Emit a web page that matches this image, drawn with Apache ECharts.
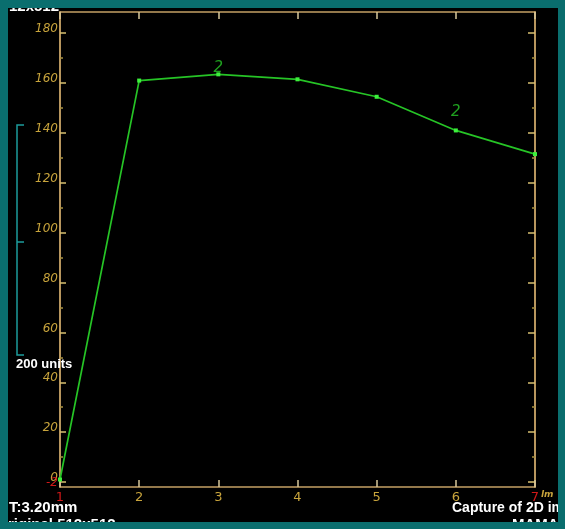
<!DOCTYPE html>
<html>
<head>
<meta charset="utf-8">
<script src="https://cdn.jsdelivr.net/npm/echarts@6/dist/echarts.min.js"></script>
<style>
html,body{margin:0;padding:0;background:#0a6e6e;}
#chart{width:565px;height:529px;}
</style>
</head>
<body>
<div id="chart"></div>
<script>
// ---- data ----
const xValues = [1, 2, 3, 4, 5, 6, 7];
const yValues = [1, 161, 163.5, 161.5, 154.5, 141, 131.5];
const pointTags = ['', '', '2', '', '', '2', ''];
const xTickValues = [1, 2, 3, 4, 5, 6, 7];
const yLabelValues = [0, 20, 40, 60, 80, 100, 120, 140, 160, 180];
const yMinLabel = [-2];
const yMajorTicks = [0, 20, 40, 60, 80, 100, 120, 140, 160, 180];
const yMinorTicks = [10, 30, 50, 70, 90, 110, 130, 150, 170];
const yMin = -2, yMax = 188.5;

const axisCol = '#c4a064';
const labelCol = '#c8a43c';
const red = '#d01818';

function yAx(pos, ticks, len, color, labels, lblColor) {
  return {
    type: 'value', position: pos, min: yMin, max: yMax,
    splitLine: {show: false},
    axisLine: {show: true, onZero: false, lineStyle: {color: axisCol, width: 1.5}},
    axisTick: {show: true, inside: true, length: len, customValues: ticks,
               lineStyle: {color: color, width: 1.5}},
    axisLabel: labels ? {
      show: true, customValues: labels, margin: 2, hideOverlap: false,
      showMinLabel: true, showMaxLabel: true,
      fontFamily: 'DejaVu Sans', fontSize: 12, fontStyle: 'italic',
      verticalAlign: 'bottom', lineHeight: 8,
      color: lblColor
    } : {show: false}
  };
}

const seriesData = xValues.map((x, i) => ({
  value: [x, yValues[i]],
  label: {show: pointTags[i] !== '', formatter: pointTags[i], distance: i === 5 ? 9 : -3}
}));

const chart = echarts.init(document.getElementById('chart'), null, {renderer: 'canvas'});
chart.setOption({
  backgroundColor: '#0a6e6e',
  animation: false,
  grid: {left: 60, right: 30, top: 12, bottom: 42},
  xAxis: [{
    type: 'value', position: 'bottom', min: 1, max: 7, interval: 1,
    splitLine: {show: false},
    axisLine: {show: true, onZero: false, lineStyle: {color: axisCol, width: 1.5}},
    axisTick: {show: true, inside: true, length: 7, lineStyle: {color: '#d8c89a', width: 1.5}},
    axisLabel: {
      show: true, margin: 4, fontFamily: 'DejaVu Sans', fontSize: 13,
      showMinLabel: true, showMaxLabel: true,
      formatter: v => (Number(v) === 1 || Number(v) === 7 ? '{r|' + v + '}' : String(v)),
      color: labelCol,
      rich: {r: {color: red, fontFamily: 'DejaVu Sans', fontSize: 13}}
    }
  }, {
    type: 'value', position: 'top', min: 1, max: 7, interval: 1,
    splitLine: {show: false},
    axisLine: {show: true, onZero: false, lineStyle: {color: axisCol, width: 1.5}},
    axisTick: {show: true, inside: true, length: 7, lineStyle: {color: '#d8c89a', width: 1.5}},
    axisLabel: {show: false}
  }],
  yAxis: [
    yAx('left', yMajorTicks, 6, '#d8c070', yLabelValues, labelCol),
    yAx('left', yMinorTicks, 3, '#a89040', yMinLabel, red),
    yAx('right', yMajorTicks, 7, '#d8c070', null),
    yAx('right', yMinorTicks, 3, '#a89040', null)
  ],
  series: [{
    type: 'line', xAxisIndex: 0, yAxisIndex: 0,
    data: seriesData,
    symbol: 'rect', symbolSize: 4, showAllSymbol: true,
    lineStyle: {color: '#26c426', width: 1.7},
    itemStyle: {color: '#3cf03c'},
    label: {position: 'top', color: '#1fa01f', fontSize: 15,
            fontFamily: 'DejaVu Sans', fontStyle: 'italic'},
    z: 5
  }],
  graphic: [
    {type: 'rect', shape: {x: 8, y: 8, width: 550, height: 514}, style: {fill: '#000'}, z: -100, silent: true},
    // scale bar
    {type: 'polyline', shape: {points: [[24, 125], [17, 125], [17, 355], [24, 355]]},
     style: {stroke: '#1d9c9c', lineWidth: 1.5, fill: null}, z: 50},
    {type: 'line', shape: {x1: 17, y1: 242, x2: 24, y2: 242}, style: {stroke: '#1d9c9c', lineWidth: 1.5}, z: 50},
    {type: 'text', x: 16, y: 364, style: {text: '200 units', fill: '#fff', font: 'bold 13px "Liberation Sans"', verticalAlign: 'middle'}, z: 60},
    // overlay texts
    {type: 'text', x: 9, y: 508, style: {text: 'T:3.20mm', fill: '#fff', font: 'bold 15px "Liberation Sans"', verticalAlign: 'middle'}, z: 60},
    {type: 'text', x: 8, y: 525, style: {text: 'riginal 512x512', fill: '#fff', font: 'bold 15px "Liberation Sans"', verticalAlign: 'middle'}, z: 60},
    {type: 'text', x: 452, y: 508, style: {text: 'Capture of 2D im', fill: '#fff', font: 'bold 14px "Liberation Sans"', verticalAlign: 'middle'}, z: 60},
    {type: 'text', x: 512, y: 525, style: {text: 'MAMAG', fill: '#fff', font: 'bold 15px "Liberation Sans"', verticalAlign: 'middle'}, z: 60},
    {type: 'text', x: 9, y: 7, style: {text: '12x512', fill: '#fff', font: 'bold 15px "Liberation Sans"', verticalAlign: 'middle'}, z: 60},
    {type: 'text', x: 541, y: 495, style: {text: 'lm', fill: labelCol, font: 'italic bold 9px "DejaVu Sans"', verticalAlign: 'middle'}, z: 60},
    // teal border on top
    {type: 'rect', shape: {x: 0, y: 0, width: 565, height: 8}, style: {fill: '#0a6e6e'}, z: 200, silent: true},
    {type: 'rect', shape: {x: 0, y: 522, width: 565, height: 7}, style: {fill: '#0a6e6e'}, z: 200, silent: true},
    {type: 'rect', shape: {x: 0, y: 0, width: 8, height: 529}, style: {fill: '#0a6e6e'}, z: 200, silent: true},
    {type: 'rect', shape: {x: 558, y: 0, width: 7, height: 529}, style: {fill: '#0a6e6e'}, z: 200, silent: true}
  ]
});
</script>
</body>
</html>
